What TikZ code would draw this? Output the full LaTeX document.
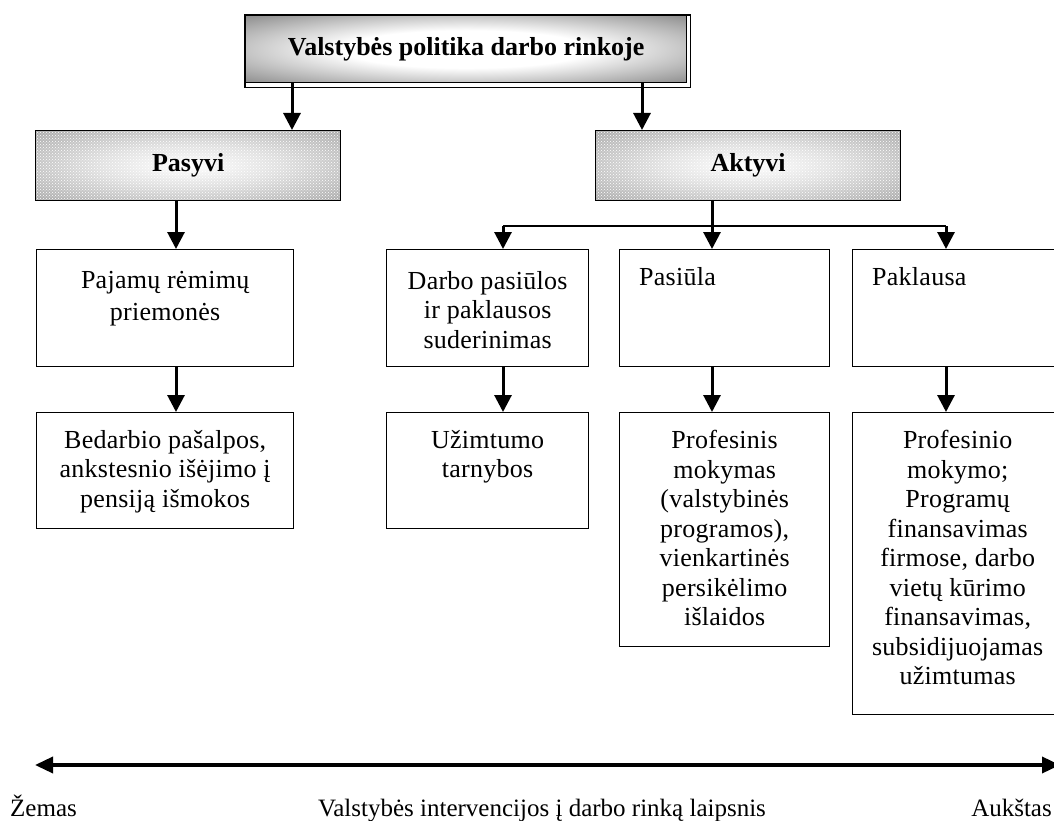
\documentclass[tikz,border=0pt]{standalone}
\usepackage{fontspec}
\setmainfont{Liberation Serif}
\usetikzlibrary{arrows.meta,patterns}
\pgfdeclareradialshading{topglow}{\pgfpoint{0bp}{0bp}}{color(0bp)=(white); color(14bp)=(white); color(38bp)=(black!50); color(50bp)=(black!55)}
\pgfdeclareradialshading{dotglow}{\pgfpoint{0bp}{0bp}}{color(0bp)=(white); color(15bp)=(black!12); color(40bp)=(black!38); color(50bp)=(black!42)}
\begin{document}
\begin{tikzpicture}[x=1pt,y=-1pt,
  box/.style={draw=black, line width=1.3pt, anchor=north west, inner sep=0pt},
  txt/.style={anchor=north, align=center, inner sep=0pt, font=\fontsize{26}{29.5}\selectfont\addfontfeatures{LetterSpace=1}},
  ltxt/.style={anchor=north west, inner sep=0pt, font=\fontsize{26}{29.5}\selectfont\addfontfeatures{LetterSpace=1}},
  lbl/.style={inner sep=0pt, font=\fontsize{25}{30}\selectfont},
  arr/.style={line width=3pt, -{Triangle[length=17pt,width=17pt]}},
  bar/.style={line width=2pt},
  lvl/.style={box, minimum width=305pt, minimum height=70pt, preaction={shade, shading=dotglow}, pattern=crosshatch dots, pattern color=white, font=\fontsize{26}{30}\selectfont\bfseries},
]
\useasboundingbox (0,0) rectangle (1054,821);

% top box
\node[box, minimum width=441pt, minimum height=67pt, shade, shading=topglow, font=\fontsize{26}{30}\selectfont\bfseries] (top) at (245,15) {Valstybės politika darbo rinkoje};
\draw[line width=1.3pt] (top.north west) rectangle ([xshift=3pt,yshift=-4pt]top.south east);

% level boxes
\node[lvl] (pas) at (35,130) {Pasyvi};
\node[lvl] (akt) at (595,130) {Aktyvi};

% column coordinates
\coordinate (xl) at (292,0);
\coordinate (xr) at (642,0);
\coordinate (k1) at (176,0);
\coordinate (k2) at (503,0);
\coordinate (k3) at (712,0);
\coordinate (k4) at (946,0);

% row 2
\node[box, minimum width=257pt, minimum height=117pt] (b1) at (36,249) {};
\node[txt] (b1t) at ([yshift=-22pt]b1.north) {Pajamų rėmimų\\[2.5pt]priemonės};
\node[box, minimum width=202pt, minimum height=117pt] (b2) at (386,249) {};
\node[txt] (b2t) at ([yshift=-22pt]b2.north) {Darbo pasiūlos\\ir paklausos\\suderinimas};
\node[box, minimum width=210pt, minimum height=117pt] (b3) at (619,249) {};
\node[ltxt] (b3t) at ([xshift=20pt,yshift=-18pt]b3.north west) {Pasiūla};
\node[box, minimum width=210pt, minimum height=117pt] (b4) at (852,249) {};
\node[ltxt] (b4t) at ([xshift=20pt,yshift=-18pt]b4.north west) {Paklausa};

% row 3
\node[box, minimum width=257pt, minimum height=116pt] (c1) at (36,412) {};
\node[txt] (c1t) at ([yshift=-18pt]c1.north) {Bedarbio pašalpos,\\ankstesnio išėjimo į\\pensiją išmokos};
\node[box, minimum width=202pt, minimum height=116pt] (c2) at (386,412) {};
\node[txt] (c2t) at ([yshift=-18pt]c2.north) {Užimtumo\\tarnybos};
\node[box, minimum width=210pt, minimum height=234pt] (c3) at (619,412) {};
\node[txt] (c3t) at ([yshift=-18pt]c3.north) {Profesinis\\mokymas\\(valstybinės\\programos),\\vienkartinės\\persikėlimo\\išlaidos};
\node[box, minimum width=210pt, minimum height=302pt] (c4) at (852,412) {};
\node[txt] (c4t) at ([yshift=-18pt]c4.north) {Profesinio\\mokymo;\\Programų\\finansavimas\\firmose, darbo\\vietų kūrimo\\finansavimas,\\subsidijuojamas\\užimtumas};

% connectors
\draw[arr] (top.south -| xl) -- (pas.north -| xl);
\draw[arr] (top.south -| xr) -- (akt.north -| xr);
\draw[arr] (pas.south -| k1) -- (b1.north -| k1);
\coordinate (barL) at (503,226);
\coordinate (barR) at (946,226);
\draw[bar] (barL) -- (barR);
\draw[arr] (akt.south -| k3) -- (b3.north -| k3);
\draw[arr] (barL) -- (b2.north -| barL);
\draw[arr] (barR) -- (b4.north -| barR);
\draw[arr] (b1.south -| k1) -- (c1.north -| k1);
\draw[arr] (b2.south -| k2) -- (c2.north -| k2);
\draw[arr] (b3.south -| k3) -- (c3.north -| k3);
\draw[arr] (b4.south -| k4) -- (c4.north -| k4);

% scale
\coordinate (lo) at (35,765);
\coordinate (hi) at (1060,765);
\draw[line width=3.5pt, {Triangle[length=18pt,width=16pt]}-{Triangle[length=18pt,width=16pt]}] (lo) -- (hi);
\node[lbl, anchor=base west] (lw) at (10,816) {Žemas};
\node[lbl, anchor=base] (lm) at (542,816) {Valstybės intervencijos į darbo rinką laipsnis};
\node[lbl, anchor=base east] (lh) at (1052,816) {Aukštas};
\end{tikzpicture}
\end{document}
